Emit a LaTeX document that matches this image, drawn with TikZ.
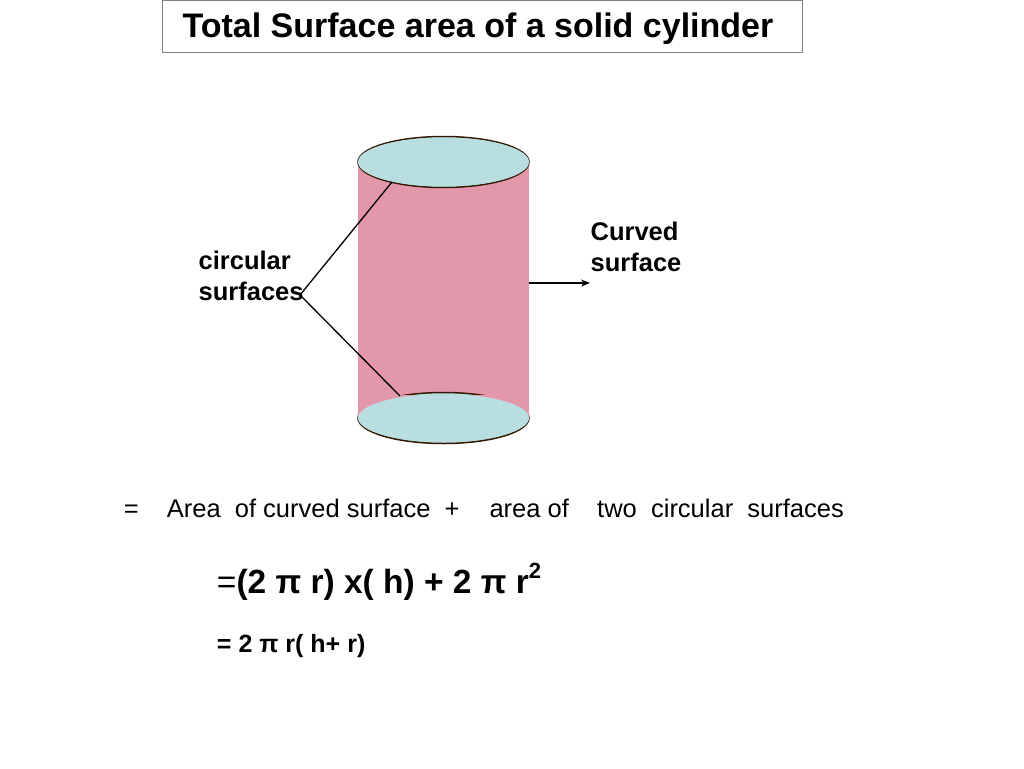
\documentclass[tikz,border=0pt]{standalone}
\usepackage{fontspec}
\usetikzlibrary{arrows.meta}
\setmainfont{Liberation Sans}
\begin{document}
\begin{tikzpicture}[x=1pt,y=-1pt,line width=1.3pt,
  lbl/.style={font=\fontsize{25.5}{31}\selectfont\bfseries,align=left,inner sep=0pt},
]
\definecolor{lidc}{HTML}{B8DEE2}
\definecolor{bodyc}{HTML}{E397AA}
\useasboundingbox (0,0) rectangle (1024,768);
\node[draw=gray,line width=1pt,minimum width=640,minimum height=52,anchor=north west,inner sep=0pt] (title) at (162,0) {};
\node[font=\fontsize{34}{36}\selectfont\bfseries] at (478,29) {Total Surface area of a solid cylinder};
% cylinder
\fill[bodyc] (358,162) rectangle (529,418);
\draw[black!80!orange,line width=1.5pt,fill=lidc] (443.5,418) ellipse [x radius=85.5,y radius=25.5];
\fill[bodyc] (358,395) rectangle (529,418);
\fill[lidc] (443.5,418) ellipse [x radius=85.5,y radius=24];
\draw[black!80!orange,line width=1.5pt,fill=lidc] (443.5,162) ellipse [x radius=85.5,y radius=25.5];
\fill[lidc] (443.5,162) ellipse [x radius=85.5,y radius=24.5];
\coordinate (topp) at (392,182);
\coordinate (botp) at (400,396);
\coordinate (side) at (529,283);
\node[lbl,anchor=west] (circ) at (198,276) {circular\\surfaces};
\node[lbl,anchor=west] (curv) at (590,247) {Curved\\surface};
\coordinate (ce) at (300,295);
\draw (ce) -- (topp);
\draw (ce) -- (botp);
\draw[-{Stealth[length=9pt,width=7pt]}] (side) -- (curv.west |- side);
\node[anchor=west,font=\fontsize{25.5}{28}\selectfont] (eq1) at (120,508) {=\hspace{28pt}Area\ \ of curved surface\ \ +\hspace{30pt}area of\ \ \ \ two\ \ circular\ \ surfaces};
\node[anchor=west,font=\fontsize{33.5}{36}\selectfont\bfseries] (eq2) at (213,582) {\mdseries=\bfseries(2 π r) x( h) + 2 π r\raisebox{0.45em}{\fontsize{22}{24}\selectfont 2}};
\node[anchor=west,font=\fontsize{25}{28}\selectfont\bfseries] (eq3) at (213,646) {= 2 π r( h+ r)};
\end{tikzpicture}
\end{document}
